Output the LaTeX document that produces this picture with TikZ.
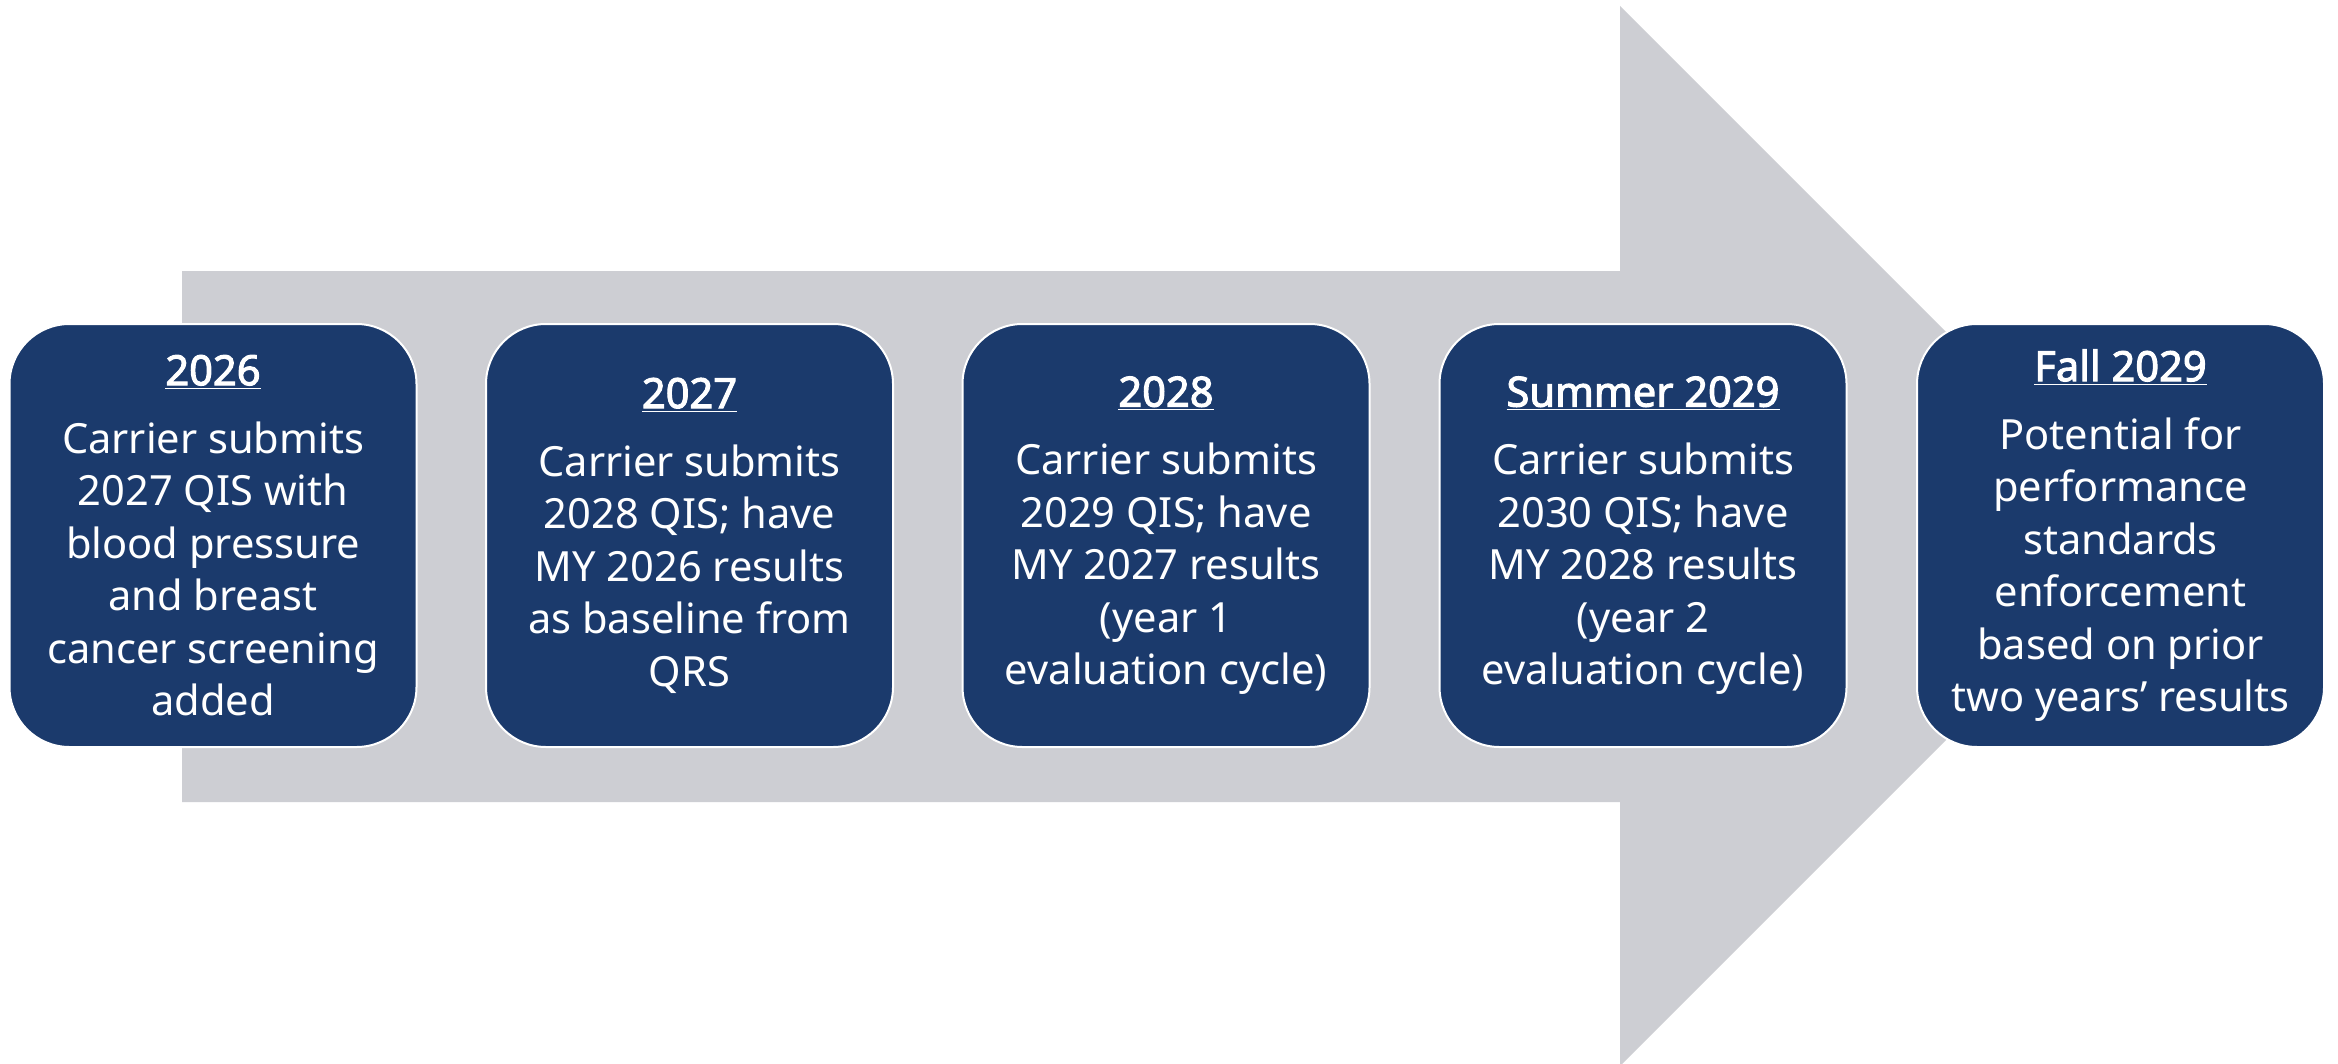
\documentclass[tikz,border=0pt]{standalone}
\usepackage{fontspec}
\setmainfont{Noto Sans}
\newfontfamily\ttlfont{Noto Sans}[FakeBold=2.5]
\definecolor{navy}{HTML}{1B3A6C}
\definecolor{arrowgray}{HTML}{CDCED3}
\begin{document}
\begin{tikzpicture}[x=0.5pt,y=-0.5pt,
  box/.style={rounded corners=30pt, fill=navy, draw=white, line width=1pt,
    minimum width=203.5pt, minimum height=211.5pt, text=white, align=center,
    font=\fontsize{20.8}{26.2}\selectfont, inner sep=0pt}]
\useasboundingbox (0,0) rectangle (2338,1064);
\fill[white] (0,0) rectangle (2338,1064);
\fill[arrowgray] (182,271) -- (1620,271) -- (1620,6) -- (2150,536) -- (1620,1066) -- (1620,802) -- (182,802) -- cycle;
\newcommand{\ttlline}[1]{\underline{\ttlfont #1}\\[8pt]}
\node[box] (b1) at (213,535.5) {\ttlline{2026}Carrier submits\\2027 QIS with\\blood pressure\\and breast\\cancer screening\\added};
\node[box] (b2) at (689.5,535.5) {\ttlline{2027}Carrier submits\\2028 QIS; have\\MY 2026 results\\as baseline from\\QRS};
\node[box] (b3) at (1166,535.5) {\ttlline{2028}Carrier submits\\2029 QIS; have\\MY 2027 results\\(year 1\\evaluation cycle)};
\node[box] (b4) at (1643,535.5) {\ttlline{Summer 2029}Carrier submits\\2030 QIS; have\\MY 2028 results\\(year 2\\evaluation cycle)};
\node[box] (b5) at (2120.5,535.5) {\ttlline{Fall 2029}Potential for\\performance\\standards\\enforcement\\based on prior\\two years’ results};
\end{tikzpicture}
\end{document}
